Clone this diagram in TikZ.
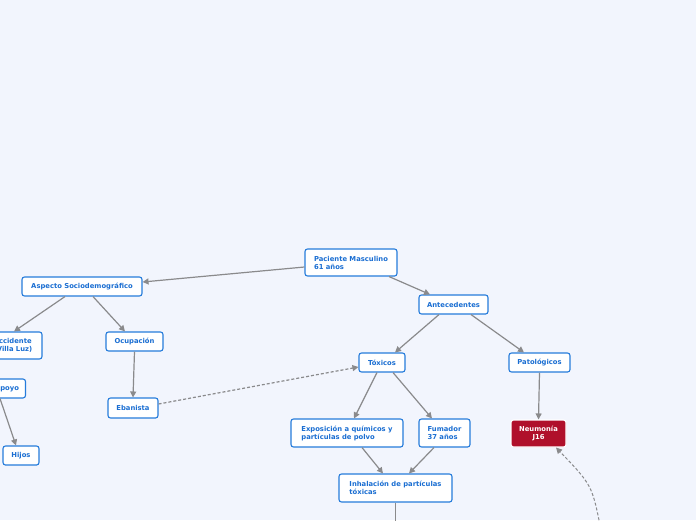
\documentclass[tikz,border=0pt]{standalone}
\usepackage{fontspec}
\setmainfont{DejaVu Sans}
\usetikzlibrary{arrows.meta}
\definecolor{bg}{RGB}{242,245,253}
\definecolor{nodeblue}{RGB}{38,124,219}
\definecolor{txtblue}{RGB}{26,110,210}
\definecolor{edgegray}{RGB}{138,138,140}
\definecolor{neured}{RGB}{176,16,43}
\tikzset{
  box/.style={draw=nodeblue, line width=1.1pt, fill=white, rounded corners=2.5pt,
    font=\fontsize{6.8}{8}\selectfont\bfseries, text=txtblue, align=left, inner sep=0pt},
  redbox/.style={box, fill=neured, draw=white, text=white, align=center},
  conn/.style={draw=edgegray, line width=1.2pt, -{Triangle[length=6pt,width=6pt]}},
  dconn/.style={conn, dash pattern=on 3pt off 2pt},
}
\begin{document}
\begin{tikzpicture}[x=1pt,y=-1pt]
\fill[bg] (0,0) rectangle (696,520);
\useasboundingbox (0,0) rectangle (696,520);
\clip (0,0) rectangle (696,520);
\node[box, minimum width=58pt, minimum height=27pt] (acc) at (13,345.5) {Accidente\\(Villa Luz)};
\node[box, minimum width=92pt, minimum height=27pt] (pac) at (351,262.5) {Paciente Masculino\\61 años};
\node[box, minimum width=120pt, minimum height=19pt] (asp) at (82,286.5) {Aspecto Sociodemográfico};
\node[box, minimum width=37pt, minimum height=19pt] (apo) at (7,388.5) {Apoyo};
\node[box, minimum width=36pt, minimum height=19pt] (hij) at (21,455.5) {Hijos};
\node[box, minimum width=57pt, minimum height=19pt] (ocu) at (134.5,341.5) {Ocupación};
\node[box, minimum width=50pt, minimum height=20pt] (eba) at (133,408) {Ebanista};
\node[box, minimum width=69pt, minimum height=19pt] (ant) at (453.5,304.5) {Antecedentes};
\node[box, minimum width=46pt, minimum height=19pt] (tox) at (382,362.5) {Tóxicos};
\node[box, minimum width=61pt, minimum height=19pt] (pat) at (539.5,362.5) {Patológicos};
\node[box, minimum width=112pt, minimum height=28pt] (exp) at (347,433) {Exposición a químicos y\\partículas de polvo};
\node[box, minimum width=51pt, minimum height=28pt] (fum) at (444.5,433) {Fumador\\37 años};
\node[box, minimum width=113pt, minimum height=28pt] (inh) at (395.5,488) {Inhalación de partículas\\tóxicas};
\node[redbox, minimum width=55pt, minimum height=27pt] (neu) at (538.5,433.5) {Neumonía\\J16};
\coordinate (offa) at (395.5,530);
\coordinate (offb) at (601,530);

\draw[conn] ([yshift=-4.5pt]pac.west) -- ([yshift=4.5pt]asp.east);
\draw[conn] ([xshift=38pt]pac.south) -- ([xshift=-23.5pt]ant.north);
\draw[conn] ([xshift=-17pt]asp.south) -- ([xshift=1pt]acc.north);
\draw[conn] ([xshift=11pt]asp.south) -- ([xshift=-9.5pt]ocu.north);
\draw[conn] (ocu.south) -- (eba.north);
\draw[conn] ([xshift=-7pt]apo.south) -- ([xshift=-5pt]hij.north);
\draw[dconn] ([yshift=4pt]eba.east) -- ([yshift=-4.5pt]tox.west);
\draw[conn] ([xshift=-14.5pt]ant.south) -- ([xshift=13pt]tox.north);
\draw[conn] ([xshift=17.5pt]ant.south) -- ([xshift=-15.5pt]pat.north);
\draw[conn] ([xshift=-5pt]tox.south) -- ([xshift=7pt]exp.north);
\draw[conn] ([xshift=11pt]tox.south) -- ([xshift=-12.5pt]fum.north);
\draw[conn] ([xshift=15pt]exp.south) -- ([xshift=-12.5pt]inh.north);
\draw[conn] ([xshift=-10.5pt]fum.south) -- ([xshift=13.5pt]inh.north);
\draw[conn] (pat.south) -- (neu.north);
\draw[draw=edgegray, line width=1.2pt] (inh.south) -- (offa);
\draw[dconn, line width=1pt] (offb) .. controls (592,485) .. ([xshift=17.5pt]neu.south);
\end{tikzpicture}
\end{document}
